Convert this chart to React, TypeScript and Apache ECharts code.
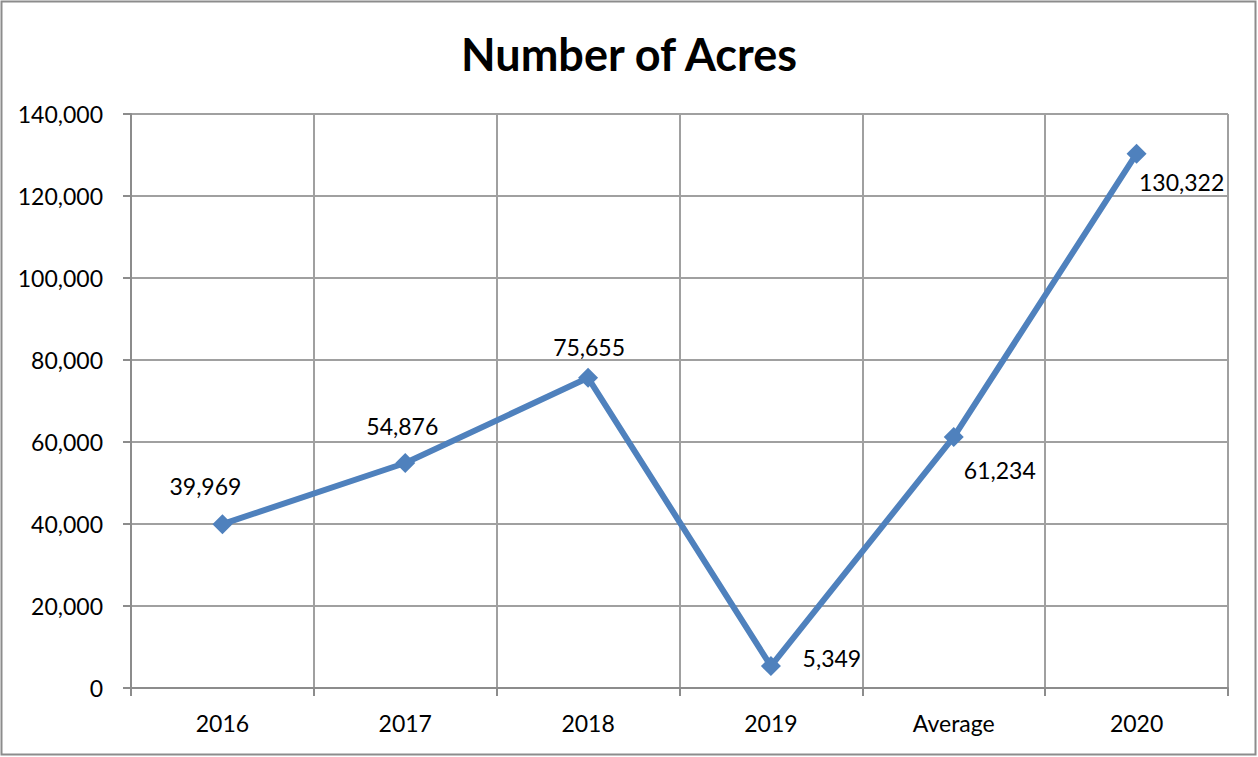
import React, { useEffect, useRef } from "react";
import * as echarts from "echarts";

const categories = ["2016", "2017", "2018", "2019", "Average", "2020"];
const acres = [39969, 54876, 75655, 5349, 61234, 130322];
const yTicks = [0, 20000, 40000, 60000, 80000, 100000, 120000, 140000];

const labelOffsets: [number, number][] = [
  [-17, -38],
  [-3, -37],
  [1, -31],
  [61, -8],
  [46, 33],
  [45, 28],
];

const FONT = "Lato, 'Open Sans', sans-serif";

export default function App() {
  const ref = useRef<HTMLDivElement>(null);
  useEffect(() => {
    if (!ref.current) return;
    const chart = echarts.init(ref.current, null, { renderer: "svg" });
    const fmt = (v: number) => v.toLocaleString("en-US");
    chart.setOption({
      animation: false,
      backgroundColor: "#ffffff",
      title: {
        text: "Number of Acres",
        left: "center",
        top: 26,
        textStyle: { fontFamily: FONT, fontSize: 45, fontWeight: "bold", color: "#000" },
      },
      graphic: [
        {
          type: "rect",
          shape: { x: 1.5, y: 1.5, width: 1254, height: 753 },
          style: { fill: "none", stroke: "#8c8c8c", lineWidth: 2 },
          silent: true,
        },
      ],
      grid: { left: 131, right: 30, top: 114, bottom: 69, containLabel: false },
      xAxis: {
        type: "category",
        data: categories,
        boundaryGap: true,
        axisLine: { lineStyle: { color: "#8c8c8c", width: 2 } },
        axisTick: { show: true, length: 8, lineStyle: { color: "#8c8c8c", width: 2 } },
        splitLine: { show: true, lineStyle: { color: "#a0a0a0", width: 2 } },
        axisLabel: { fontFamily: FONT, fontSize: 23, color: "#000", margin: 23 },
      },
      yAxis: {
        type: "value",
        min: yTicks[0],
        max: yTicks[yTicks.length - 1],
        interval: yTicks[1] - yTicks[0],
        axisLine: { show: true, lineStyle: { color: "#8c8c8c", width: 2 } },
        axisTick: { show: true, length: 8, lineStyle: { color: "#8c8c8c", width: 2 } },
        splitLine: { show: true, lineStyle: { color: "#a0a0a0", width: 2 } },
        axisLabel: {
          fontFamily: FONT,
          fontSize: 23,
          color: "#000",
          margin: 28,
          formatter: (v: number) => fmt(v),
        },
      },
      series: [
        {
          type: "line",
          data: acres.map((v, i) => ({
            value: v,
            label: { offset: labelOffsets[i] },
          })),
          symbol: "diamond",
          symbolSize: 20,
          lineStyle: { color: "#4f81bd", width: 6 },
          itemStyle: { color: "#4f81bd" },
          label: {
            show: true,
            position: "inside",
            align: "center",
            verticalAlign: "middle",
            fontFamily: FONT,
            fontSize: 23,
            color: "#000",
            formatter: (p: any) => fmt(p.value),
          },
        },
      ],
    });
    return () => chart.dispose();
  }, []);
  return (
    <div
      ref={ref}
      style={{ position: "fixed", left: 0, top: 0, width: 1258, height: 757 }}
    />
  );
}
